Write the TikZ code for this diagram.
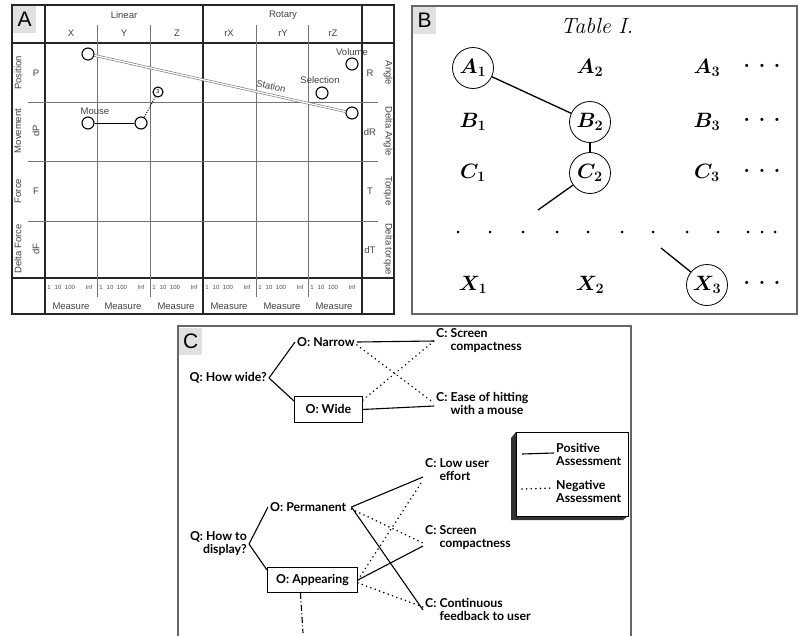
\documentclass[tikz,border=0pt]{standalone}
\usepackage{fontspec}
\setsansfont{Liberation Sans}
\newfontfamily\latofont{Lato}
\usetikzlibrary{positioning}

\tikzset{
  tagbox/.style={fill=black!12, font=\sffamily\fontsize{21}{21}\selectfont, minimum width=23, minimum height=27, inner sep=0, anchor=north west},
  gridA/.style={line width=1.3pt, black!85},
  thinA/.style={line width=0.7pt, black!55},
  txtA/.style={font=\sffamily\fontsize{9.5}{10}\selectfont, text=black!75, inner sep=1pt},
  tinyA/.style={font=\sffamily\fontsize{6}{6}\selectfont, text=black!70, inner sep=0.5pt},
  knob/.style={circle, draw, line width=1.1pt, minimum size=12, inner sep=0},
  ring/.style={circle, draw, line width=0.8pt, minimum size=41, inner sep=0},
  cell/.style={font=\fontsize{22}{22}\selectfont\bfseries\boldmath, inner sep=1pt},
  txtC/.style={font=\latofont\bfseries\fontsize{12.3}{13}\selectfont, inner sep=2pt, align=left},
  obox/.style={txtC, draw, line width=0.9pt, minimum height=26, inner sep=3pt},
  plusline/.style={line width=1.1pt},
  minusline/.style={line width=1.7pt, dash pattern=on 0.1pt off 4.5pt, line cap=round},
}

\begin{document}
\begin{tikzpicture}[x=1pt, y=-1pt]
  \useasboundingbox (0,0) rectangle (799,635);

  % A
  \draw[gridA] (12,5) rectangle (394,314);
  \node[tagbox] (tagA) at (13,6) {A};
  \draw[gridA] (12,43) -- (394,43);
  \draw[gridA] (12,278) -- (394,278);
  \foreach \x in {45,203,362}
    \draw[gridA] (\x,5) -- (\x,314);
  \foreach \x in {97,150,256,308}
    \draw[thinA] (\x,25) -- (\x,297);
  \foreach \y in {102,161,221}
    \draw[thinA] (28,\y) -- (378,\y);

  \node[txtA] (linear) at (124,15) {Linear};
  \node[txtA] (rotary) at (283,15) {Rotary};
  \foreach \t/\x in {X/71,Y/124,Z/177,rX/229,rY/283,rZ/333}
    \node[txtA] (col\t) at (\x,33) {\t};

  \foreach \t/\y [count=\i] in {Position/73,Movement/131,Force/191,Delta Force/249}
    \node[txtA, rotate=90] (rowL\i) at (18,\y) {\t};
  \node[txtA] (symP) at (36,73) {P};
  \node[txtA, rotate=90] (symdP) at (36,131) {dP};
  \node[txtA] (symF) at (36,191) {F};
  \node[txtA, rotate=90] (symdF) at (36,249) {dF};

  \foreach \t/\y [count=\i] in {Angle/73,Delta Angle/131,Torque/191,Delta torque/249}
    \node[txtA, rotate=-90] (rowR\i) at (388,\y) {\t};
  \foreach \t/\y in {R/73,dR/132,T/191,dT/250}
    \node[txtA] (sym\t) at (370,\y) {\t};

  \foreach \x [count=\i] in {45,97,150,203,256,308}{
    \node[tinyA] (one\i) at (\x+4,287) {1};
    \node[tinyA] (ten\i) at (\x+13,287) {10};
    \node[tinyA] (hun\i) at (\x+25,287) {100};
    \node[tinyA] (inf\i) at (\x+44,287) {Inf};
    \node[txtA] (meas\i) at (\x+26,306) {Measure};
  }

  \node[knob] (st1) at (88,54) {};
  \node[knob] (st2) at (352,113) {};
  \draw[draw=black!55, line width=0.6pt, double=white, double distance=1.3pt] (st1) -- (st2);
  \node[txtA, rotate=-12.5] (station) at (271,86) {Station};

  \node[knob] (ms1) at (88,123) {};
  \node[knob] (ms2) at (141,123) {};
  \draw[line width=0.9pt] (ms1) -- (ms2);
  \node[txtA] (mouse) at (95,111) {Mouse};

  \node[knob, minimum size=10, font=\sffamily\fontsize{5.5}{5.5}\selectfont] (three) at (158,92) {3};
  \draw[line width=1pt, dash pattern=on 1pt off 1.5pt] (ms2) -- (three);

  \node[knob] (vol) at (352,64) {};
  \node[txtA] (volume) at (352,52) {Volume};
  \node[knob] (sel) at (322,93) {};
  \node[txtA] (selection) at (320,80) {Selection};

  % B
  \draw[black!60, line width=1.6pt] (412,6) rectangle (797,314);
  \node[tagbox] (tagB) at (413,7) {B};
  \node[font=\fontsize{22}{22}\selectfont\itshape] (table) at (597,26) {Table I.};

  \foreach \r/\y/\k in {A/68/1,B/122/2,C/173/2,X/285/3}{
    \foreach \c/\x in {1/473,2/590,3/707}{
      \ifnum\c=\k \tikzset{cellstyle/.style={ring}}\else\tikzset{cellstyle/.style={}}\fi
      \node[cell, cellstyle] (\r\c) at (\x,\y) {$\r_\c$};
    }
    \node[cell] (\r4) at (762,\y-2) {.\ .\ .};
  }
  \foreach \x in {458,490,523,557,588,622,653,687,718,748,762,775}
    \fill (\x,232) circle (1.5);

  \coordinate (cend) at (538,210);
  \coordinate (xend) at (661,248);
  \draw[line width=1.3pt] (A1) -- (B2);
  \draw[line width=1.3pt] (B2) -- (C2);
  \draw[line width=1.3pt] (C2) -- (cend);
  \draw[line width=1.3pt] (xend) -- (X3);

  % C
  \draw[black!60, line width=1.4pt] (178,640) -- (178,326) -- (631,326) -- (631,640);
  \node[tagbox] (tagC) at (179,328) {C};

  \node[txtC, anchor=east] (qwide) at (269,378) {Q: How wide?};
  \node[txtC, anchor=west] (narrow) at (295,342) {O: Narrow};
  \node[obox, anchor=north west, minimum width=68] (wide) at (294,396) {O: Wide};
  \node[txtC, anchor=west] (scr1) at (434,341) {C: Screen\\\phantom{C: }compactness};
  \node[txtC, anchor=west] (ease) at (434,403) {C: Ease of hitting\\\phantom{C: }with a mouse};

  \draw[plusline] (qwide.east) -- (narrow.west);
  \draw[plusline] (qwide.east) -- ([yshift=-5pt]wide.north west);
  \draw[plusline] (narrow.east) -- (scr1.west);
  \draw[minusline] ([yshift=-3pt]narrow.east) -- (ease.west);
  \draw[minusline] ([yshift=-4pt]wide.north east) -- (scr1.west);
  \draw[plusline] (wide.east) -- ([yshift=-3pt]ease.west);

  \node[txtC, anchor=east, align=right] (qdisp) at (249,544) {Q: How to\\display?};
  \node[txtC, anchor=west] (perm) at (268,507) {O: Permanent};
  \node[obox, anchor=north west, minimum width=90, minimum height=25] (appear) at (267,567) {O: Appearing};
  \node[txtC, anchor=west] (low) at (423,470) {C: Low user\\\phantom{C: }effort};
  \node[txtC, anchor=west] (scr2) at (423,538) {C: Screen\\\phantom{C: }compactness};
  \node[txtC, anchor=west] (cont) at (423,609) {C: Continuous\\\phantom{C: }feedback to user};

  \draw[plusline] (qdisp.east) -- (perm.west);
  \draw[plusline] (qdisp.east) -- ([yshift=-3pt]appear.north west);
  \draw[plusline] ([xshift=3pt]perm.east) -- ([yshift=-7pt]low.west);
  \draw[minusline] ([xshift=3pt,yshift=-2pt]perm.east) -- ([yshift=-5pt]scr2.west);
  \draw[plusline] ([xshift=3pt]perm.east) -- ([yshift=-1pt]cont.west);
  \draw[minusline] (appear.east) -- ([yshift=-10pt]low.west);
  \draw[plusline] (appear.east) -- ([yshift=-8pt]scr2.west);
  \draw[minusline] ([yshift=-3pt]appear.east) -- ([yshift=2pt]cont.west);
  \coordinate (ddend) at (303,633);
  \draw[line width=1.1pt, dash pattern=on 6pt off 2.5pt on 1pt off 2.5pt] ([xshift=-12pt]appear.south) -- (ddend);

  % legend
  \fill[black!80] (516,432) -- (511,438) -- (511,520) -- (623,520) -- (628,516) -- (516,516) -- cycle;
  \draw[line width=0.9pt, fill=white] (516,432) rectangle (628,516);
  \node[txtC, anchor=west] (posA) at (554,454) {Positive\\Assessment};
  \node[txtC, anchor=west] (negA) at (554,491) {Negative\\Assessment};
  \coordinate (posL) at (522,454);
  \coordinate (negL) at (522,489);
  \draw[plusline] (posL) -- ([yshift=1pt]posA.west);
  \draw[minusline] (negL) -- ([yshift=3pt]negA.west);
\end{tikzpicture}
\end{document}
